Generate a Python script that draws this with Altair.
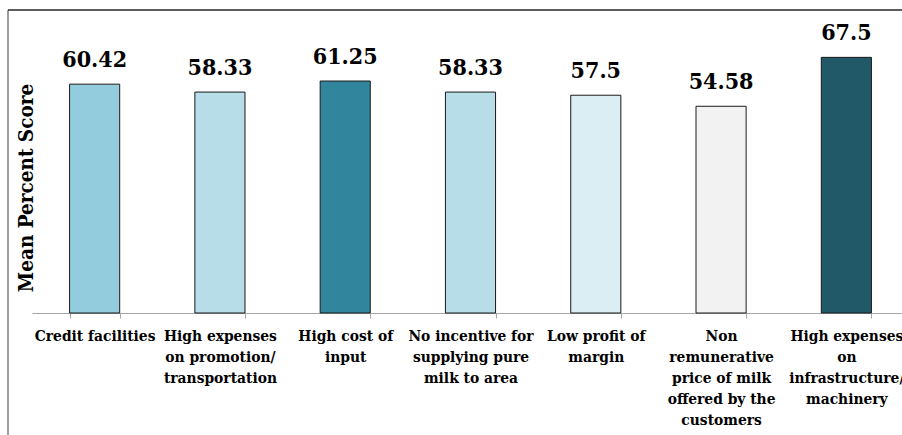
import altair as alt
import pandas as pd

categories = [
    "Credit facilities",
    "High expenses|on promotion/|transportation",
    "High cost of|input",
    "No incentive for|supplying pure|milk to  area",
    "Low profit of|margin",
    "Non|remunerative|price of milk|offered by the|customers",
    "High expenses|on|infrastructure/|machinery",
]
scores = [60.42, 58.33, 61.25, 58.33, 57.5, 54.58, 67.5]
colors = ["#93CDDD", "#B7DEE8", "#31859C", "#B7DEE8", "#DBEEF4", "#F2F2F2", "#215968"]

df = pd.DataFrame({"cat": categories, "score": scores, "color": colors})

FONT = "DejaVu Serif Condensed, DejaVu Serif"

x = alt.X(
    "cat:N",
    sort=None,
    scale=alt.Scale(range=[0, 877], paddingInner=0.6, paddingOuter=0.3),
    axis=alt.Axis(
        title=None,
        labelExpr="split(datum.label, '|')",
        labelAngle=0,
        labelFont=FONT,
        labelFontWeight="bold",
        labelFontSize=15.4,
        labelLineHeight=21.2,
        labelColor="#000000",
        labelLimit=0,
        labelBaseline="top",
        labelPadding=10,
        tickBand="extent",
        tickSize=5,
        tickColor="#A6A6A6",
        domainColor="#A6A6A6",
        domainWidth=1.2,
        labelOverlap=False,
    ),
)
y = alt.Y(
    "score:Q",
    scale=alt.Scale(domain=[0, 80], nice=False, zero=True),
    axis=alt.Axis(
        title="Mean Percent Score",
        labels=False,
        ticks=False,
        domain=False,
        grid=False,
        titleFont=FONT,
        titleFontWeight="bold",
        titleFontSize=20.5,
        titleColor="#000000",
        titleAngle=270,
        titleAlign="center",
        titleBaseline="alphabetic",
        titleX=0,
        titleY=177.5,
    ),
)

bars = alt.Chart(df).mark_bar(stroke="#1a1a1a", strokeWidth=1).encode(
    x=x, y=y, color=alt.Color("color:N", scale=None)
)

labels = alt.Chart(df).mark_text(
    font=FONT, fontWeight="bold", fontSize=23, dy=-17, baseline="alphabetic", color="#000000"
).encode(x=x, y=y, text=alt.Text("score:Q", format="~g"))

frame_data = alt.Data(values=[{"k": 1}])
left_line = alt.Chart(frame_data).mark_rule(color="#7F7F7F", strokeWidth=1.5).encode(
    x=alt.value(-24), y=alt.value(0), y2=alt.value(430)
)
top_line = alt.Chart(frame_data).mark_rule(color="#262626", strokeWidth=1.5).encode(
    x=alt.value(-24), x2=alt.value(880), y=alt.value(0)
)

chart = alt.layer(bars, labels, left_line, top_line).properties(
    width=870,
    height=303,
    autosize=alt.AutoSizeParams(type="none"),
    padding={"left": 32, "top": 10, "right": 0, "bottom": 122},
    background="white",
).configure_view(stroke=None)

chart.save("out.html", embed_options={"renderer": "svg", "actions": False})
